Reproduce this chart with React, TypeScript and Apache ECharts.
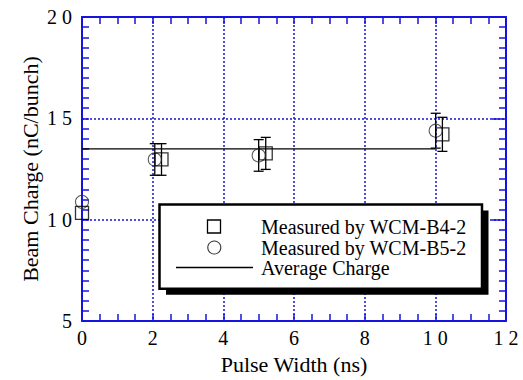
import React, { useEffect, useRef } from 'react';
import * as echarts from 'echarts';

// ---- data ----
const b4X = [0, 2.25, 5.2, 10.2];
const b4Y = [10.34, 12.97, 13.27, 14.21];
const b4Err = [0, 0.78, 0.79, 0.84];

const b5X = [0, 2.06, 5.0, 10.01];
const b5Y = [10.88, 12.97, 13.17, 14.39];
const b5Err = [0, 0.78, 0.78, 0.86];

const avgX = [0, 10];
const avgValue = 13.49;

const legendNames = ['Measured by WCM-B4-2', 'Measured by WCM-B5-2', 'Average Charge'];
const xTitle = 'Pulse Width (ns)';
const yTitle = 'Beam Charge (nC/bunch)';

const SERIF = 'Liberation Serif';
const BLUE = '#1414dc';

const fmt = (v: number) => String(v).split('').join(' ');

function errRender(params: any, api: any) {
  const x = api.value(0);
  const y = api.value(1);
  const e = api.value(2);
  if (!(e > 0)) return null;
  const top = api.coord([x, y + e]);
  const bot = api.coord([x, y - e]);
  const hw = 5;
  const style = { stroke: '#000', lineWidth: 1.3 };
  return {
    type: 'group',
    children: [
      { type: 'line', shape: { x1: top[0], y1: top[1], x2: bot[0], y2: bot[1] }, style },
      { type: 'line', shape: { x1: top[0] - hw, y1: top[1], x2: top[0] + hw, y2: top[1] }, style },
      { type: 'line', shape: { x1: bot[0] - hw, y1: bot[1], x2: bot[0] + hw, y2: bot[1] }, style },
    ],
  };
}

function makeX(position: 'bottom' | 'top', main: boolean) {
  return {
    type: 'value',
    position,
    min: 0,
    max: 12,
    interval: 2,
    axisLine: { show: true, onZero: false, lineStyle: { color: BLUE, width: 2 } },
    axisTick: { show: true, inside: true, length: 7, lineStyle: { color: BLUE, width: 1.5 } },
    minorTick: { show: true, splitNumber: 4, length: 7, lineStyle: { color: BLUE, width: 1.5 } },
    axisLabel: main
      ? { show: true, formatter: fmt, color: '#000', fontFamily: SERIF, fontSize: 20, margin: 7 }
      : { show: false },
    splitLine: main
      ? { show: true, showMinLine: false, showMaxLine: false, lineStyle: { color: BLUE, type: [2, 2], width: 1.5 } }
      : { show: false },
    name: main ? xTitle : '',
    nameLocation: 'middle',
    nameGap: 32,
    nameMoveOverlap: false,
    nameTextStyle: { color: '#000', fontFamily: SERIF, fontSize: 22 },
  };
}

function makeY(position: 'left' | 'right', main: boolean) {
  return {
    type: 'value',
    position,
    min: 5,
    max: 20,
    interval: 5,
    axisLine: { show: true, onZero: false, lineStyle: { color: BLUE, width: 2 } },
    axisTick: { show: true, inside: true, length: main ? 7 : 14, lineStyle: { color: BLUE, width: 1.5 } },
    minorTick: { show: true, splitNumber: 10, length: 7, lineStyle: { color: BLUE, width: 1.5 } },
    axisLabel: main
      ? { show: true, formatter: fmt, color: '#000', fontFamily: SERIF, fontSize: 20, margin: 10 }
      : { show: false },
    splitLine: main
      ? { show: true, showMinLine: false, showMaxLine: false, lineStyle: { color: BLUE, type: [2, 2], width: 1.5 } }
      : { show: false },
    name: main ? yTitle : '',
    nameLocation: 'middle',
    nameGap: 41,
    nameMoveOverlap: false,
    nameTextStyle: { color: '#000', fontFamily: SERIF, fontSize: 22 },
  };
}

const LX = 261;
const legendRows = [226.5, 247.5, 267.5];

export default function App() {
  const ref = useRef<HTMLDivElement>(null);
  useEffect(() => {
    document.body.style.margin = '0';
    const chart = echarts.init(ref.current!, null, { renderer: 'svg' });
    const option: any = {
      animation: false,
      textStyle: { fontFamily: SERIF },
      grid: { left: 82, top: 17, right: 17, bottom: 58 },
      xAxis: [makeX('bottom', true), makeX('top', false)],
      yAxis: [makeY('left', true), makeY('right', false)],
      series: [
        {
          name: legendNames[2],
          type: 'line',
          data: avgX.map((x) => [x, avgValue]),
          symbol: 'none',
          lineStyle: { color: '#000', width: 1.3 },
          z: 2,
        },
        {
          type: 'custom',
          renderItem: errRender,
          data: b5X.map((x, i) => [x, b5Y[i], b5Err[i]]),
          z: 3,
        },
        {
          type: 'custom',
          renderItem: errRender,
          data: b4X.map((x, i) => [x, b4Y[i], b4Err[i]]),
          z: 3,
        },
        {
          name: legendNames[1],
          type: 'scatter',
          symbol: 'circle',
          symbolSize: 13,
          data: b5X.map((x, i) => [x, b5Y[i]]),
          itemStyle: { color: 'rgba(0,0,0,0)', borderColor: '#333', borderWidth: 1.1 },
          z: 4,
        },
        {
          name: legendNames[0],
          type: 'scatter',
          symbol: 'rect',
          symbolSize: 13,
          data: b4X.map((x, i) => [x, b4Y[i]]),
          itemStyle: { color: 'rgba(0,0,0,0)', borderColor: '#000', borderWidth: 1.3 },
          z: 4,
        },
      ],
      graphic: [
        { type: 'rect', z: 10, shape: { x: 166, y: 210.5, width: 322.5, height: 84.2 }, style: { fill: '#000' } },
        {
          type: 'rect',
          z: 11,
          shape: { x: 159.5, y: 204.5, width: 322.5, height: 84.2 },
          style: { fill: '#fff', stroke: '#000', lineWidth: 2.5 },
        },
        {
          type: 'rect',
          z: 12,
          shape: { x: 207.5, y: legendRows[0] - 6.5, width: 13, height: 13 },
          style: { fill: 'none', stroke: '#000', lineWidth: 1.3 },
        },
        {
          type: 'circle',
          z: 12,
          shape: { cx: 214.3, cy: legendRows[1], r: 6.5 },
          style: { fill: 'none', stroke: '#333', lineWidth: 1.1 },
        },
        {
          type: 'line',
          z: 12,
          shape: { x1: 176, y1: legendRows[2], x2: 253, y2: legendRows[2] },
          style: { stroke: '#000', lineWidth: 1.3 },
        },
        ...legendNames.map((t, i) => ({
          type: 'text',
          z: 12,
          x: LX,
          y: legendRows[i],
          style: {
            text: t,
            fill: '#000',
            fontFamily: SERIF,
            fontSize: 20,
            verticalAlign: 'middle',
          },
        })),
      ],
    };
    chart.setOption(option);
    return () => chart.dispose();
  }, []);
  return <div ref={ref} style={{ width: 523, height: 380 }} />;
}
